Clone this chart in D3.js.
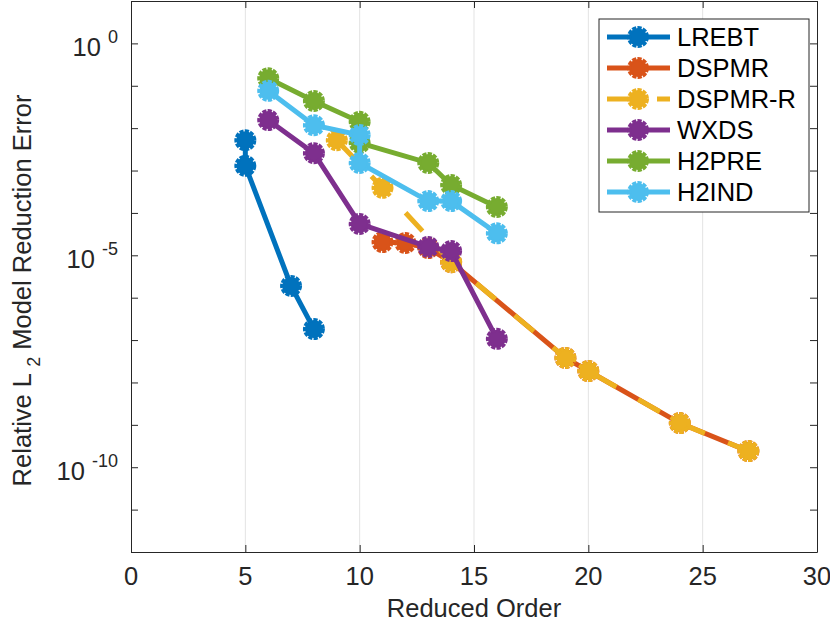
<!DOCTYPE html>
<html>
<head>
<meta charset="utf-8">
<script src="https://cdn.jsdelivr.net/npm/d3@7"></script>
<style>
  body { margin: 0; background: #fff; }
  text { font-family: "Liberation Sans", Arial, sans-serif; fill: #262626; }
</style>
</head>
<body>
<div class="chart"></div>
<script>
// data
const seriesNames = ["LREBT", "DSPMR", "DSPMR-R", "WXDS", "H2PRE", "H2IND"];
const seriesColors = ["#0072BD", "#D95319", "#EDB120", "#7E2F8E", "#77AC30", "#4DBEEE"];
const seriesDashed = [false, false, true, false, false, false];

const lrebtOrder = [5, 5, 7, 8];
const lrebtError = [5.2e-3, 1.29e-3, 1.9e-6, 1.82e-7];

const dspmrOrder = [11, 12, 13, 14, 19, 20, 24, 27];
const dspmrError = [2.05e-5, 1.95e-5, 1.48e-5, 6.9e-6, 3.8e-8, 1.86e-8, 1.1e-9, 2.4e-10];

const dspmrROrder = [9, 11, 14, 19, 20, 24, 27];
const dspmrRError = [5.2e-3, 3.9e-4, 6.9e-6, 3.8e-8, 1.86e-8, 1.1e-9, 2.4e-10];

const wxdsOrder = [6, 8, 10, 13, 14, 16];
const wxdsError = [1.55e-2, 2.57e-3, 5.5e-5, 1.58e-5, 1.26e-5, 1.07e-7];

const h2preOrder = [6, 8, 10, 10, 13, 14, 16];
const h2preError = [0.151, 0.0437, 0.0141, 4.5e-3, 1.51e-3, 4.57e-4, 1.38e-4];

const h2indOrder = [6, 8, 10, 10, 13, 14, 16];
const h2indError = [0.0759, 0.0117, 6.9e-3, 1.51e-3, 1.9e-4, 1.9e-4, 3.3e-5];

const xTicks = [0, 5, 10, 15, 20, 25, 30];
const yLabelExps = [0, -5, -10];

const orders = [lrebtOrder, dspmrOrder, dspmrROrder, wxdsOrder, h2preOrder, h2indOrder];
const errors = [lrebtError, dspmrError, dspmrRError, wxdsError, h2preError, h2indError];

// layout
const W = 830, H = 627;
const margin = {top: 1, left: 131, right: 13, bottom: 75};
const width = W - margin.left - margin.right,
    height = H - margin.top - margin.bottom;
const fs = 25.5;

const svg = d3.select(".chart").append("svg")
    .attr("width", W).attr("height", H);

const gr = svg.append("g")
    .attr("transform", `translate(${margin.left},${margin.top})`);

const xScale = d3.scaleLinear().domain([0, 30]).range([0, width]);
const yScale = d3.scaleLog().domain([1e-12, 10]).range([height, 0]);

const axisColor = "#262626";

// x grid
gr.append("g").selectAll("line")
    .data(xTicks.slice(1, -1))
    .join("line")
    .attr("x1", d => xScale(d)).attr("x2", d => xScale(d))
    .attr("y1", 0).attr("y2", height)
    .attr("stroke", "#e3e3e3").attr("stroke-width", 1);

// box + inward ticks
const tickLen = 7;
const decades = d3.range(-12, 2).map(e => Math.pow(10, e));

const xAxB = d3.axisBottom(xScale).tickValues(xTicks).tickSizeInner(-tickLen).tickSizeOuter(0).tickFormat("");
const xAxT = d3.axisTop(xScale).tickValues(xTicks).tickSizeInner(-tickLen).tickSizeOuter(0).tickFormat("");
const yAxL = d3.axisLeft(yScale).tickValues(decades).tickSizeInner(-tickLen).tickSizeOuter(0).tickFormat("");
const yAxR = d3.axisRight(yScale).tickValues(decades).tickSizeInner(-tickLen).tickSizeOuter(0).tickFormat("");

gr.append("g").attr("transform", `translate(0,${height})`).call(xAxB);
gr.append("g").call(xAxT);
gr.append("g").call(yAxL);
gr.append("g").attr("transform", `translate(${width},0)`).call(yAxR);
gr.selectAll(".domain, .tick line").attr("stroke", axisColor).attr("stroke-width", 1);

// tick labels
gr.append("g").selectAll("text")
    .data(xTicks)
    .join("text")
    .attr("x", d => xScale(d))
    .attr("y", height + 33)
    .attr("text-anchor", "middle")
    .attr("font-size", fs)
    .text(d => d);

const yl = gr.append("g").selectAll("text")
    .data(yLabelExps)
    .join("text")
    .attr("x", -13)
    .attr("y", d => yScale(Math.pow(10, d)) + 13)
    .attr("text-anchor", "end")
    .attr("font-size", fs);
yl.append("tspan").text("10 ");
yl.append("tspan").attr("dy", -13).attr("font-size", 18).text(d => d);

// axis titles
gr.append("text")
    .attr("x", width / 2).attr("y", height + 65)
    .attr("text-anchor", "middle").attr("font-size", fs)
    .text("Reduced Order");

const yt = svg.append("text")
    .attr("transform", `translate(31,${margin.top + height / 2 + 14}) rotate(-90)`)
    .attr("text-anchor", "middle").attr("font-size", fs);
yt.append("tspan").text("Relative L ");
yt.append("tspan").attr("dy", 9).attr("font-size", 18).text("2");
yt.append("tspan").attr("dy", -9).text("  Model Reduction Error");

// series
const line = d3.line().x(d => xScale(d[0])).y(d => yScale(d[1]));

function drawMarker(sel, color) {
    sel.attr("r", 9)
        .attr("fill", color)
        .attr("stroke", color)
        .attr("stroke-width", 4)
        .attr("stroke-dasharray", "4 1.2");
}

seriesNames.forEach((name, i) => {
    const pts = orders[i].map((o, j) => [o, errors[i][j]]);
    const g = gr.append("g").attr("class", "series");
    g.append("path")
        .datum(pts)
        .attr("d", line)
        .attr("fill", "none")
        .attr("stroke", seriesColors[i])
        .attr("stroke-width", 5)
        .attr("stroke-dasharray", seriesDashed[i] ? "25,25" : null);
    g.selectAll("circle")
        .data(pts)
        .join("circle")
        .attr("cx", d => xScale(d[0]))
        .attr("cy", d => yScale(d[1]))
        .call(drawMarker, seriesColors[i]);
});

// legend
const lg = svg.append("g").attr("transform", "translate(599,19)");
lg.append("rect")
    .attr("width", 210).attr("height", 193)
    .attr("fill", "#fff").attr("stroke", axisColor).attr("stroke-width", 1);

const rows = lg.selectAll("g.row")
    .data(seriesNames)
    .join("g")
    .attr("class", "row")
    .attr("transform", (d, i) => `translate(0,${18 + i * 31})`);

rows.append("line")
    .attr("x1", 8).attr("x2", 71)
    .attr("stroke", (d, i) => seriesColors[i])
    .attr("stroke-width", 5)
    .attr("stroke-dasharray", (d, i) => seriesDashed[i] ? "25,25" : null);
rows.append("circle")
    .attr("cx", 39).attr("cy", 0)
    .each(function(d, i) { d3.select(this).call(drawMarker, seriesColors[i]); });
rows.append("text")
    .attr("x", 78).attr("y", 9)
    .attr("font-size", fs)
    .style("fill", "#000")
    .text(d => d);
</script>
</body>
</html>
